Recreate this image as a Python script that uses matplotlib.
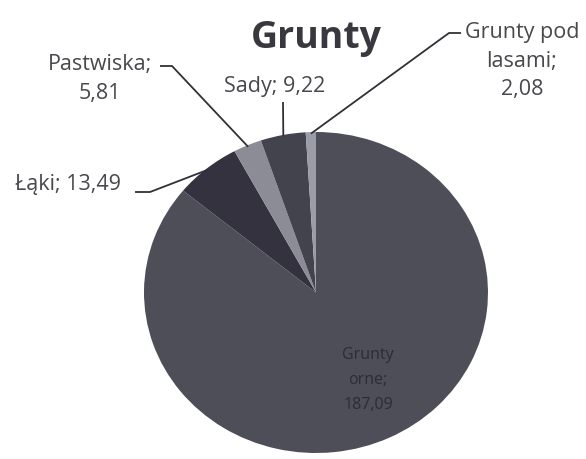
import numpy as np
import matplotlib
matplotlib.use('Agg')
import matplotlib.pyplot as plt

# data
categories = ['Grunty orne', 'Łąki', 'Pastwiska', 'Sady', 'Grunty pod lasami']
values = [187.09, 13.49, 5.81, 9.22, 2.08]
label_texts = ['Grunty\norne;\n187,09', 'Łąki; 13,49', 'Pastwiska;\n5,81', 'Sady; 9,22', 'Grunty pod\nlasami;\n2,08']
colors = ['#4e4e59', '#34323f', '#8c8c96', '#43434e', '#9a9ca8']

W, H = 586, 459
CX, CY, RX, RY = 316, 292.5, 172, 160.5

def px(x, y):
    # pixel position -> data coords of the pie axes
    return (x - CX) / RX, (CY - y) / RY

fig = plt.figure(figsize=(W / 100, H / 100), dpi=100)
fig.set_facecolor('white')
ax = fig.add_axes([(CX - RX) / W, (H - CY - RY) / H, 2 * RX / W, 2 * RY / H])

wedges, _ = ax.pie(values, colors=colors, startangle=90, counterclock=False,
                   wedgeprops=dict(linewidth=0))
ax.set_aspect('auto')
ax.set_xlim(-1, 1)
ax.set_ylim(-1, 1)
ax.axis('off')

font = 'Open Sans'
lab_color = '#48484d'

# label text centres (pixels) and leader line starts
text_pos = [(368, 380), (68, 184), (100, 79), (275, 86), (522, 61)]
line_start = [None, [(135, 192), (150, 192)], [(160, 66), (172, 66)],
              [(283, 102)], [(461, 33), (449, 33)]]

for i, (w, txt) in enumerate(zip(wedges, label_texts)):
    tx, ty = px(*text_pos[i])
    if i == 0:
        ax.text(tx, ty, txt, ha='center', va='center', fontsize=11.5, family=font,
                color='#2c2c33', linespacing=1.75, clip_on=False)
        continue
    ax.text(tx, ty, txt, ha='center', va='center', fontsize=15.5, family=font,
            color=lab_color, linespacing=1.45, clip_on=False)
    mid = np.deg2rad((w.theta1 + w.theta2) / 2)
    ex, ey = 0.99 * np.cos(mid), 0.99 * np.sin(mid)
    pts = [px(*p) for p in line_start[i]] + [(ex, ey)]
    xs, ys = zip(*pts)
    ax.plot(xs, ys, color='#303036', lw=1.3, clip_on=False, solid_capstyle='butt')

fig.text(316 / W, 1 - 38 / H, 'Grunty', ha='center', va='center', fontsize=27,
         fontweight='bold', family=font, color='#38383e')

fig.savefig('out.png', dpi=100, facecolor=fig.get_facecolor())
